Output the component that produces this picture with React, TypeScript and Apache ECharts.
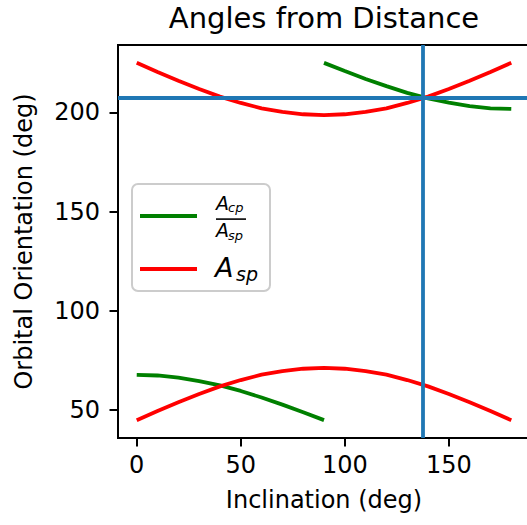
import React, { useEffect, useRef } from "react";
import * as echarts from "echarts";

// Inclination samples (deg)
const incFull = [0, 10, 20, 30, 40, 50, 60, 70, 80, 90, 100, 110, 120, 130, 140, 150, 160, 170, 180];
const incLow = [0, 10, 20, 30, 40, 50, 60, 70, 80, 90];
const incHigh = [90, 100, 110, 120, 130, 140, 150, 160, 170, 180];

// A_sp solutions (red)
const redLower = [45, 49.6, 54, 58.2, 62, 65.2, 67.9, 69.7, 70.9, 71.3, 70.9, 69.7, 67.9, 65.2, 62, 58.2, 54, 49.6, 45];
const redUpper = [225, 220.4, 216, 211.8, 208, 204.8, 202.1, 200.3, 199.1, 198.7, 199.1, 200.3, 202.1, 204.8, 208, 211.8, 216, 220.4, 225];

// A_cp / A_sp solutions (green)
const greenLower = [67.8, 67.5, 66.4, 64.7, 62.5, 59.7, 56.4, 52.8, 49.0, 45];
const greenUpper = [225, 220.9, 216.9, 213.3, 209.9, 207.1, 205.0, 203.2, 202.1, 201.8];

// Solution guides
const solutionInclination = 137.6;
const solutionOrientation = 207.4;

const xTicks = [0, 50, 100, 150];
const yTicks = [50, 100, 150, 200];

const FONT = "DejaVu Sans";
const RED = "#ff0000";
const GREEN = "#008000";
const BLUE = "#1f77b4";

const pairs = (xs: number[], ys: number[]) => xs.map((x, i) => [x, ys[i]]);

export default function App() {
  const ref = useRef<HTMLDivElement>(null);
  useEffect(() => {
    if (!ref.current) return;
    const chart = echarts.init(ref.current, null, { renderer: "svg" });
    const lineSeries = (name: string, data: number[][], color: string) => ({
      name,
      type: "line",
      data,
      showSymbol: false,
      symbol: "none",
      lineStyle: { color, width: 3.8 },
      itemStyle: { color },
      z: 2,
    });
    const axisCommon = {
      type: "value",
      nameLocation: "middle",
      nameTextStyle: { fontSize: 24, fontFamily: FONT, color: "#000" },
      axisLine: { show: true, onZero: false, lineStyle: { color: "#000", width: 2 } },
      splitLine: { show: false },
    };
    const option: any = {
      animation: false,
      title: {
        text: "Angles from Distance",
        left: 324,
        top: 3,
        textAlign: "center",
        padding: 0,
        textStyle: { fontFamily: FONT, fontSize: 29, fontWeight: "normal", color: "#000" },
      },
      grid: {
        left: 118,
        top: 45,
        width: 412,
        height: 393,
        show: true,
        borderColor: "#000",
        borderWidth: 2,
        backgroundColor: "transparent",
        containLabel: false,
        outerBoundsMode: "none",
      },
      xAxis: {
        ...axisCommon,
        min: -9,
        max: 189,
        name: "Inclination (deg)",
        nameGap: 50,
        axisTick: { show: true, length: 8.5, lineStyle: { color: "#000", width: 2 }, customValues: xTicks },
        axisLabel: { customValues: xTicks, fontSize: 24, fontFamily: FONT, color: "#000", margin: 15 },
      },
      yAxis: {
        ...axisCommon,
        min: 36,
        max: 234,
        name: "Orbital Orientation (deg)",
        nameGap: 82,
        axisTick: { show: true, length: 8.5, lineStyle: { color: "#000", width: 2 }, customValues: yTicks },
        axisLabel: { customValues: yTicks, fontSize: 24, fontFamily: FONT, color: "#000", margin: 18 },
      },
      series: [
        lineSeries("Acp/Asp", pairs(incLow, greenLower), GREEN),
        lineSeries("Acp/Asp upper", pairs(incHigh, greenUpper), GREEN),
        lineSeries("Asp", pairs(incFull, redLower), RED),
        lineSeries("Asp upper", pairs(incFull, redUpper), RED),
        {
          name: "guides",
          type: "line",
          data: [],
          z: 5,
          markLine: {
            silent: true,
            symbol: "none",
            label: { show: false },
            lineStyle: { color: BLUE, width: 3.8, type: "solid" },
            data: [{ xAxis: solutionInclination }, { yAxis: solutionOrientation }],
            z: 5,
          },
        },
      ],
      graphic: [
        {
          type: "group",
          z: 10,
          children: [
            {
              type: "rect",
              shape: { x: 132, y: 184, width: 138, height: 107, r: 6 },
              style: { fill: "rgba(255,255,255,0.8)", stroke: "#cccccc", lineWidth: 2 },
            },
            { type: "line", shape: { x1: 140, y1: 216, x2: 197, y2: 216 }, style: { stroke: GREEN, lineWidth: 3.8 } },
            { type: "line", shape: { x1: 140, y1: 269, x2: 197, y2: 269 }, style: { stroke: RED, lineWidth: 3.8 } },
            { type: "text", style: { text: "A", x: 216, y: 203, verticalAlign: "middle", font: `italic 19px "${FONT}"`, fill: "#000" } },
            { type: "text", style: { text: "cp", x: 228, y: 207, verticalAlign: "middle", font: `italic 13px "${FONT}"`, fill: "#000" } },
            { type: "rect", shape: { x: 216, y: 218.3, width: 30, height: 1.6 }, style: { fill: "#000" } },
            { type: "text", style: { text: "A", x: 216, y: 230, verticalAlign: "middle", font: `italic 19px "${FONT}"`, fill: "#000" } },
            { type: "text", style: { text: "sp", x: 228, y: 235, verticalAlign: "middle", font: `italic 13px "${FONT}"`, fill: "#000" } },
            { type: "text", style: { text: "A", x: 215, y: 267, verticalAlign: "middle", font: `italic 27px "${FONT}"`, fill: "#000" } },
            { type: "text", style: { text: "sp", x: 236, y: 274, verticalAlign: "middle", font: `italic 19px "${FONT}"`, fill: "#000" } },
          ],
        },
      ],
    };
    chart.setOption(option);
    return () => chart.dispose();
  }, []);
  return (
    <div
      ref={ref}
      style={{ position: "fixed", left: 0, top: 0, width: 527, height: 525, background: "#fff" }}
    />
  );
}
